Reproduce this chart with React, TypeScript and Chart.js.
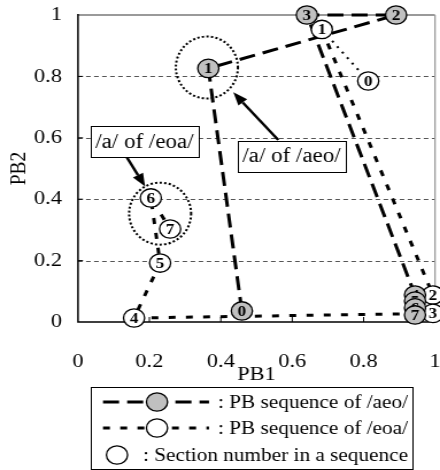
import React, { useEffect, useRef } from "react";
import { Chart, registerables } from "chart.js";

Chart.register(...registerables);

// ---------------- data ----------------
const sectionNumbers = ["0", "1", "2", "3", "4", "5", "6", "7"];
const aeoPB1 = [0.459, 0.365, 0.891, 0.641, 0.944, 0.944, 0.944, 0.944];
const aeoPB2 = [0.036, 0.826, 1.0, 1.0, 0.088, 0.068, 0.046, 0.023];
const eoaPB1 = [0.813, 0.683, 0.994, 0.994, 0.157, 0.23, 0.204, 0.258];
const eoaPB2 = [0.785, 0.953, 0.088, 0.028, 0.013, 0.192, 0.404, 0.303];

const xTickValues = [0, 0.2, 0.4, 0.6, 0.8, 1];
const xTickLabels = ["0", "0.2", "0.4", "0.6", "0.8", "1"];
const yTickValues = [0, 0.2, 0.4, 0.6, 0.8, 1];
const yTickLabels = ["0", "0.2", "0.4", "0.6", "0.8", "1"];
const xAxisTitle = "PB1";
const yAxisTitle = "PB2";

const seriesNames = ["PB sequence of /aeo/", "PB sequence of /eoa/"];
const legendNote = "Section number in a sequence";

const calloutTexts = ["/a/ of /eoa/", "/a/ of /aeo/"];
const calloutPB1 = [0.186, 0.598];
const calloutPB2 = [0.588, 0.54];
const arrowTailPB1 = [0.136, 0.561];
const arrowTailPB2 = [0.538, 0.593];
const arrowHeadPB1 = [0.188, 0.435];
const arrowHeadPB2 = [0.441, 0.748];
const ringPB1 = [0.23, 0.361];
const ringPB2 = [0.353, 0.829];

// ---------------- layout ----------------
const W = 440;
const H = 470;
const CW = 383; // backing width, shown stretched to W (matches the wide look of the reference)
const SX = W / CW;
const FONT = "'Liberation Serif', 'Times New Roman', serif";
const AEO_DASH = [14, 7];
const EOA_DASH = [6, 9];

function drawMarker(ctx: CanvasRenderingContext2D, cx: number, cy: number, fill: string, label: string) {
  ctx.save();
  ctx.setLineDash([]);
  ctx.beginPath();
  ctx.arc(cx, cy, 9.2, 0, Math.PI * 2);
  ctx.fillStyle = fill;
  ctx.fill();
  ctx.lineWidth = 1.3;
  ctx.strokeStyle = "#000";
  ctx.stroke();
  if (label) {
    ctx.fillStyle = "#000";
    ctx.font = `bold 15px ${FONT}`;
    ctx.textAlign = "center";
    ctx.textBaseline = "middle";
    ctx.fillText(label, cx, cy + 1);
  }
  ctx.restore();
}

function drawArrow(ctx: CanvasRenderingContext2D, x1: number, y1: number, x2: number, y2: number) {
  const ang = Math.atan2(y2 - y1, x2 - x1);
  const hl = 13;
  const hw = 5;
  const bx = x2 - hl * Math.cos(ang);
  const by = y2 - hl * Math.sin(ang);
  ctx.save();
  ctx.setLineDash([]);
  ctx.strokeStyle = "#000";
  ctx.fillStyle = "#000";
  ctx.lineWidth = 2.4;
  ctx.beginPath();
  ctx.moveTo(x1, y1);
  ctx.lineTo(bx, by);
  ctx.stroke();
  ctx.beginPath();
  ctx.moveTo(x2, y2);
  ctx.lineTo(bx + hw * Math.sin(ang), by - hw * Math.cos(ang));
  ctx.lineTo(bx - hw * Math.sin(ang), by + hw * Math.cos(ang));
  ctx.closePath();
  ctx.fill();
  ctx.restore();
}

const decor = {
  id: "decor",
  beforeDatasetsDraw(chart: any) {
    const { ctx, chartArea: a, scales } = chart;
    const x = scales.x;
    const y = scales.y;
    ctx.save();
    // dashed horizontal grid
    ctx.strokeStyle = "#555";
    ctx.lineWidth = 1;
    ctx.setLineDash([4, 3]);
    for (const v of yTickValues) {
      if (v <= 0 || v >= 1) continue;
      const py = Math.round(y.getPixelForValue(v)) + 0.5;
      ctx.beginPath();
      ctx.moveTo(a.left, py);
      ctx.lineTo(a.right, py);
      ctx.stroke();
    }
    ctx.setLineDash([]);
    // grey top / right frame
    ctx.strokeStyle = "#9a9a9a";
    ctx.lineWidth = 2;
    ctx.beginPath();
    ctx.moveTo(a.left, a.top);
    ctx.lineTo(a.right, a.top);
    ctx.stroke();
    ctx.lineWidth = 1.3;
    ctx.beginPath();
    ctx.moveTo(a.right, a.top);
    ctx.lineTo(a.right, a.bottom);
    ctx.stroke();
    // black axes
    ctx.strokeStyle = "#000";
    ctx.lineWidth = 1.5;
    ctx.beginPath();
    ctx.moveTo(a.left, a.top - 1);
    ctx.lineTo(a.left, a.bottom);
    ctx.lineTo(a.right, a.bottom);
    ctx.stroke();
    // inward tick marks
    ctx.lineWidth = 1;
    for (const v of xTickValues) {
      if (v <= 0 || v >= 1) continue;
      const px = x.getPixelForValue(v);
      ctx.beginPath();
      ctx.moveTo(px, a.bottom);
      ctx.lineTo(px, a.bottom - 5);
      ctx.stroke();
    }
    for (const v of yTickValues) {
      if (v <= 0 || v >= 1) continue;
      const py = y.getPixelForValue(v);
      ctx.beginPath();
      ctx.moveTo(a.left, py);
      ctx.lineTo(a.left + 5 / SX, py);
      ctx.stroke();
    }
    // dotted highlight rings
    ctx.setLineDash([2, 2]);
    ctx.lineWidth = 2;
    ringPB1.forEach((v, i) => {
      ctx.beginPath();
      ctx.ellipse(x.getPixelForValue(v), y.getPixelForValue(ringPB2[i]), 31 / SX, 31, 0, 0, Math.PI * 2);
      ctx.stroke();
    });
    ctx.restore();
  },
  afterDatasetsDraw(chart: any) {
    const { ctx, scales } = chart;
    const x = scales.x;
    const y = scales.y;
    // numbered section markers, drawn in sequence order (later ones cover earlier ones)
    const markers = (dsIndex: number, fill: string) => {
      const meta = chart.getDatasetMeta(dsIndex);
      meta.data.forEach((pt: any, i: number) => drawMarker(ctx, pt.x, pt.y, fill, sectionNumbers[i]));
    };
    markers(1, "#ffffff");
    markers(0, "#c0c0c0");

    // arrows
    arrowTailPB1.forEach((v, i) => {
      drawArrow(
        ctx,
        x.getPixelForValue(v),
        y.getPixelForValue(arrowTailPB2[i]),
        x.getPixelForValue(arrowHeadPB1[i]),
        y.getPixelForValue(arrowHeadPB2[i])
      );
    });

    // callout boxes
    ctx.save();
    ctx.font = `20px ${FONT}`;
    ctx.textAlign = "center";
    ctx.textBaseline = "middle";
    calloutTexts.forEach((t, i) => {
      const cx = x.getPixelForValue(calloutPB1[i]);
      const cy = y.getPixelForValue(calloutPB2[i]);
      const tw = ctx.measureText(t).width;
      const bw = tw + 8;
      const bh = 31;
      ctx.fillStyle = "#fff";
      ctx.fillRect(cx - bw / 2, cy - bh / 2, bw, bh);
      ctx.strokeStyle = "#000";
      ctx.lineWidth = 1;
      ctx.strokeRect(Math.round(cx - bw / 2) + 0.5, Math.round(cy - bh / 2) + 0.5, Math.round(bw), bh);
      ctx.fillStyle = "#000";
      ctx.fillText(t, cx, cy + 1);
    });
    ctx.restore();

    // legend box
    ctx.save();
    const lx0 = 91 / SX;
    const lx1 = 413 / SX;
    const ly0 = 387;
    const ly1 = 469;
    ctx.fillStyle = "#fff";
    ctx.fillRect(lx0, ly0, lx1 - lx0, ly1 - ly0);
    ctx.strokeStyle = "#000";
    ctx.lineWidth = 1;
    ctx.strokeRect(Math.round(lx0) + 0.5, ly0 + 0.5, Math.round(lx1 - lx0), ly1 - ly0);
    const rows = [402, 428, 455];
    const dashes = [AEO_DASH, EOA_DASH];
    const fills = ["#c0c0c0", "#ffffff"];
    for (let r = 0; r < 2; r++) {
      ctx.strokeStyle = "#000";
      ctx.lineWidth = 3;
      ctx.setLineDash(dashes[r]);
      ctx.beginPath();
      ctx.moveTo(103 / SX, rows[r]);
      ctx.lineTo(209 / SX, rows[r]);
      ctx.stroke();
      ctx.setLineDash([]);
      drawMarker(ctx, 157 / SX, rows[r], fills[r], "");
    }
    drawMarker(ctx, 117 / SX, rows[2], "#ffffff", "");
    ctx.fillStyle = "#000";
    ctx.font = `18.5px ${FONT}`;
    ctx.textAlign = "right";
    ctx.textBaseline = "middle";
    const texts = [": " + seriesNames[0], ": " + seriesNames[1], ": " + legendNote];
    texts.forEach((t, r) => ctx.fillText(t, 408 / SX, rows[r] + 1));
    ctx.restore();
  },
};

export default function App() {
  const ref = useRef<HTMLCanvasElement | null>(null);

  useEffect(() => {
    const canvas = ref.current;
    if (!canvas) return;
    const chart = new Chart(canvas, {
      type: "scatter",
      data: {
        datasets: [
          {
            label: seriesNames[0],
            data: aeoPB1.map((v, i) => ({ x: v, y: aeoPB2[i] })),
            showLine: true,
            borderColor: "#000",
            borderWidth: 3,
            borderDash: AEO_DASH,
            pointRadius: 0,
            pointHoverRadius: 0,
            fill: false,
            tension: 0,
            clip: false,
          },
          {
            label: seriesNames[1],
            data: eoaPB1.map((v, i) => ({ x: v, y: eoaPB2[i] })),
            showLine: true,
            borderColor: "#000",
            borderWidth: 3,
            borderDash: EOA_DASH,
            segment: {
              borderDash: (c: any) => (c.p0DataIndex === 0 ? [2, 5] : undefined),
              borderWidth: (c: any) => (c.p0DataIndex === 0 ? 2 : undefined),
            },
            pointRadius: 0,
            pointHoverRadius: 0,
            fill: false,
            tension: 0,
            clip: false,
          },
        ],
      },
      options: {
        responsive: false,
        animation: false,
        events: [],
        devicePixelRatio: 1,
        layout: { padding: { left: 0, right: CW - 435 / SX, top: 15, bottom: 83 } },
        plugins: { legend: { display: false }, tooltip: { enabled: false } },
        scales: {
          x: {
            type: "linear",
            min: 0,
            max: 1,
            grid: { display: false, drawTicks: false },
            border: { display: false },
            afterBuildTicks: (s: any) => {
              s.ticks = xTickValues.map((v) => ({ value: v }));
            },
            afterFit: (s: any) => {
              s.height = 65;
              s.paddingLeft = 0;
              s.paddingRight = 0;
            },
            ticks: {
              color: "#000",
              font: { family: FONT, size: 19.5 },
              padding: 28,
              maxRotation: 0,
              autoSkip: false,
              callback: (_v: any, i: number) => xTickLabels[i],
            },
            title: {
              display: true,
              text: xAxisTitle,
              color: "#000",
              font: { family: FONT, size: 19.5 },
              padding: { top: 0, bottom: 0 },
            },
          },
          y: {
            type: "linear",
            min: 0,
            max: 1,
            grid: { display: false, drawTicks: false },
            border: { display: false },
            afterBuildTicks: (s: any) => {
              s.ticks = yTickValues.map((v) => ({ value: v }));
            },
            afterFit: (s: any) => {
              s.width = 78 / SX;
              s.paddingTop = 0;
              s.paddingBottom = 0;
            },
            ticks: {
              color: "#000",
              font: { family: FONT, size: 19.5 },
              padding: 14,
              autoSkip: false,
              callback: (_v: any, i: number) => yTickLabels[i],
            },
            title: {
              display: true,
              text: yAxisTitle,
              color: "#000",
              font: { family: FONT, size: 19.5 },
              padding: { top: 5, bottom: 0 },
            },
          },
        },
      },
      plugins: [decor],
    } as any);
    return () => chart.destroy();
  }, []);

  return (
    <div style={{ position: "absolute", left: 0, top: 0, width: W, height: H, background: "#fff" }}>
      <canvas ref={ref} width={CW} height={H} style={{ width: `${W}px`, height: `${H}px`, display: "block" }} />
    </div>
  );
}
